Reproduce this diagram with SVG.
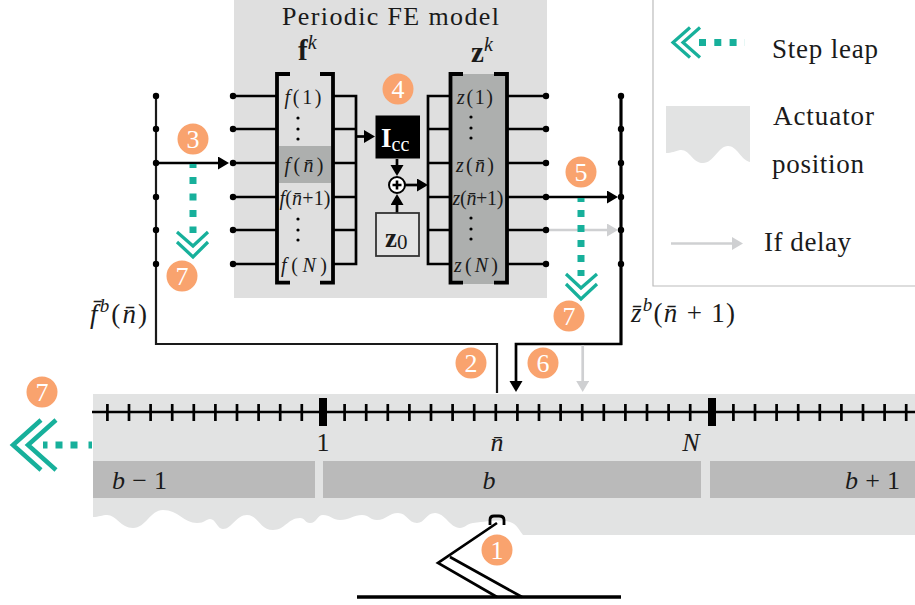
<svg xmlns="http://www.w3.org/2000/svg" width="915" height="605" viewBox="0 0 915 605">
<style>
text{font-family:"Liberation Serif","Times New Roman",serif;fill:#1a1a1a}
.it{font-style:italic}
.b{font-weight:bold}
.cell{font-size:20px;text-anchor:middle}
.lg{font-size:27px}
.big{font-size:26px}
.line{fill:none;stroke:#000;stroke-width:2.7}
.thin{fill:none;stroke:#1a1a1a;stroke-width:2.2}
.brk{fill:none;stroke:#000;stroke-width:3.8}
.gr{fill:none;stroke:#cfd0d2;stroke-width:2.7}
.dot{fill:#000}
.tick{stroke:#000;stroke-width:2.7}
.major{fill:#000}
.teal{fill:none;stroke:#17b09b;stroke-width:7}
.chev{fill:none;stroke:#17b09b;stroke-width:3.2;stroke-miterlimit:10}
.badge circle{fill:#f9a36e}
.badge text{fill:#fff;font-size:26px;text-anchor:middle}
.act{fill:#e2e3e3}
.blk{fill:#bababa}
</style>
<defs>
<marker id="ah" markerUnits="userSpaceOnUse" markerWidth="13" markerHeight="14" refX="8" refY="6.500" orient="auto"><polygon points="0,0 11,6.500 0,13" fill="#000"/></marker>
<marker id="agr" markerUnits="userSpaceOnUse" markerWidth="13" markerHeight="14" refX="8" refY="6.500" orient="auto"><polygon points="0,0 11,6.500 0,13" fill="#cfd0d2"/></marker>
</defs>

<g id="fe-panel">
<rect x="234" y="0" width="313" height="298" fill="#dfdfdf"/>
<text x="282" y="25" font-size="26" textLength="217">Periodic FE model</text>
</g>

<g id="legend">
<path d="M653 0V286H915" fill="none" stroke="#bcbcbc" stroke-width="1.2"/>
<path class="act" d="M666 106H750V162C741 160 737 146 728 146C718 146 714 163 703 163C692 163 690 149 680 150C675 151 672 153 666 153Z"/>
<path d="M699 42.5H745" fill="none" stroke="#17b09b" stroke-width="7" stroke-dasharray="7 8.3"/>
<path class="chev" d="M690 27.5L673 42.5L690 57.5M700 27.5L683 42.5L700 57.5"/>
<text class="lg" x="772" y="58" textLength="106">Step leap</text>
<text class="lg" x="773" y="125" textLength="101">Actuator</text>
<text class="lg" x="772" y="173" textLength="92">position</text>
<path class="gr" d="M671 243.500H740" marker-end="url(#agr)"/>
<text class="lg" x="764" y="251" textLength="87">If delay</text>
</g>

<g id="actuator-bar">
<path class="act" d="M93 394H915V535H523C519 530 517 524 510 522C500 519 490 521 473 523C466 524 465 528 460 528C450 528 445 513 435 513C426 513 425 523 417 523C408 523 407 513 398 513C389 513 386 520 377 520C370 520 369 515 362 515C354 515 349 520 340 520C333 520 330 515 323 515C317 515 317 523 310 523C305 523 305 518 300 518C288 518 285 530 273 530C260 530 258 515 247 515C236 515 232 529 223 529C217 529 216 519 210 519C206 519 205 523 197 523C184 523 178 510 163 510C150 510 146 528 133 528C121 528 116 515 107 515C102 515 99 517 93 517Z"/>
</g>

<g id="ruler">
<path d="M92 412H915" fill="none" stroke="#000" stroke-width="2.7"/>
<path class="tick" d="M107.400 404V421M129 404V421M150.600 404V421M172.200 404V421M193.800 404V421M215.400 404V421M237 404V421M258.600 404V421M280.200 404V421M301.800 404V421M344.600 404V421M366.200 404V421M387.800 404V421M409.400 404V421M431 404V421M452.600 404V421M474.200 404V421M495.800 404V421M517.400 404V421M539 404V421M560.600 404V421M582.200 404V421M603.800 404V421M625.400 404V421M647 404V421M668.600 404V421M690.200 404V421M733.400 404V421M755 404V421M776.600 404V421M798.200 404V421M819.800 404V421M841.400 404V421M863 404V421M884.600 404V421M906.200 404V421"/>
<rect class="major" x="319" y="398" width="8" height="28"/>
<rect class="major" x="708" y="398" width="8" height="28"/>
<text class="big" x="323" y="451" text-anchor="middle">1</text>
<text class="big it" x="497" y="451" text-anchor="middle">n̄</text>
<text class="big it" x="691" y="451" text-anchor="middle">N</text>
</g>

<g id="block-b-minus-1"><rect class="blk" x="93" y="461" width="222" height="37"/><text class="big" x="112" y="489" textLength="55"><tspan class="it">b</tspan> − 1</text></g>
<g id="block-b"><rect class="blk" x="323" y="461" width="378" height="37"/><text class="big it" x="489" y="489" text-anchor="middle">b</text></g>
<g id="block-b-plus-1"><rect class="blk" x="710" y="461" width="205" height="37"/><text class="big" x="845" y="489" textLength="55"><tspan class="it">b</tspan> + 1</text></g>

<g id="actuator-symbol">
<path d="M490 525V520Q490 516 494 516H499Q504 516 504 520V525" fill="none" stroke="#000" stroke-width="2.800"/>
<path class="line" d="M497 523L438 563L497 597M450 557L522 597"/>
<path d="M357 597H621" fill="none" stroke="#000" stroke-width="3.500"/>
</g>

<g id="connectors">
<path class="thin" d="M497 393V344H156V96"/>
<path class="line" d="M621 96V344H516V389" marker-end="url(#ah)"/>
<path class="gr" d="M582.700 345V389" marker-end="url(#agr)"/>
<path class="line" d="M156 163H226" marker-end="url(#ah)"/>
<path class="line" d="M233 96H277M233 129H277M233 163H277M233 197H277M233 230H277M233 264H277"/>
<path class="line" d="M333 96H356M333 129H356M333 163H356M333 197H356M333 230H356M333 264H356M356 94.700V265.300"/>
<path class="line" d="M356 136.500H372" marker-end="url(#ah)"/>
<path class="line" d="M397 159V173" marker-end="url(#ah)"/>
<path class="line" d="M397 213V197" marker-end="url(#ah)"/>
<path class="line" d="M405 185H425" marker-end="url(#ah)"/>
<path class="line" d="M428 94.700V265.300M428 96H450M428 129H450M428 163H450M428 197H450M428 230H450M428 264H450"/>
<path class="line" d="M507 96H546M507 129H546M507 163H546M507 197H546M507 230H546M507 264H546"/>
<path class="gr" d="M546 230H615" marker-end="url(#agr)"/>
<path class="line" d="M546 197H615" marker-end="url(#ah)"/>
<path class="line" d="M621 94V345"/>
<g class="dot">
<circle cx="156" cy="96" r="3.200"/><circle cx="156" cy="129" r="3.200"/><circle cx="156" cy="163" r="3.200"/><circle cx="156" cy="197" r="3.200"/><circle cx="156" cy="230" r="3.200"/><circle cx="156" cy="264" r="3.200"/>
<circle cx="233" cy="96" r="3.200"/><circle cx="233" cy="129" r="3.200"/><circle cx="233" cy="163" r="3.200"/><circle cx="233" cy="197" r="3.200"/><circle cx="233" cy="230" r="3.200"/><circle cx="233" cy="264" r="3.200"/>
<circle cx="546" cy="96" r="3.200"/><circle cx="546" cy="129" r="3.200"/><circle cx="546" cy="163" r="3.200"/><circle cx="546" cy="197" r="3.200"/><circle cx="546" cy="230" r="3.200"/><circle cx="546" cy="264" r="3.200"/>
<circle cx="621" cy="96" r="3.200"/><circle cx="621" cy="129" r="3.200"/><circle cx="621" cy="163" r="3.200"/><circle cx="621" cy="197" r="3.200"/><circle cx="621" cy="230" r="3.200"/><circle cx="621" cy="264" r="3.200"/>
</g>
<path class="teal" d="M193 164V233" stroke-dasharray="4 9 7 9.500 7 9.500 7 9.500 7 9.500"/>
<path class="chev" d="M177 232L193 246L208 232M177 242L193 257L208 242"/>
<path class="teal" d="M581 198V276" stroke-dasharray="4 8 7 8 7 8 7 8 7 8 7 8"/>
<path class="chev" d="M566 274L581 288L597 274M566 284L581 299L597 284"/>
<path class="teal" d="M92 445H43" stroke-dasharray="3.500 11 7 8 7 8 7 8"/>
<path class="chev" style="stroke-width:4.500" d="M41 420L13 445L41 470M56 420L28 445L56 470"/>
</g>

<g id="matrix-f">
<rect x="279" y="146" width="52" height="37" fill="#adafae"/>
<path class="brk" d="M290 74H277V282.700H290M320 74H333V282.700H320"/>
<text class="b" x="298" y="60" font-size="29">f<tspan class="it" font-weight="normal" font-size="20" dy="-11">k</tspan></text>
<text class="cell" x="303" y="104" textLength="37"><tspan class="it">f</tspan>(1)</text>
<text class="cell" x="304" y="172" textLength="39"><tspan class="it">f</tspan>(<tspan class="it">n̄</tspan>)</text>
<text class="cell" x="305" y="205" textLength="51"><tspan class="it">f</tspan>(<tspan class="it">n̄</tspan>+1)</text>
<text class="cell" x="304" y="272" textLength="46"><tspan class="it">f</tspan>(<tspan class="it">N</tspan>)</text>
<g class="dot"><circle cx="298" cy="118" r="1.600"/><circle cx="298" cy="129" r="1.600"/><circle cx="298" cy="139" r="1.600"/><circle cx="298" cy="219" r="1.600"/><circle cx="298" cy="230" r="1.600"/><circle cx="298" cy="240" r="1.600"/></g>
</g>

<g id="matrix-z">
<rect x="450" y="74" width="57" height="210" fill="#adafae"/>
<path class="brk" d="M463 74H450.500V282.700H463M494 74H507V282.700H494"/>
<text class="b" x="471" y="62" font-size="29">z<tspan class="it" font-weight="normal" font-size="20" dy="-11">k</tspan></text>
<text class="cell" x="475" y="104" textLength="36"><tspan class="it">z</tspan>(1)</text>
<text class="cell" x="475" y="172" textLength="38"><tspan class="it">z</tspan>(<tspan class="it">n̄</tspan>)</text>
<text class="cell" x="478" y="205" textLength="51"><tspan class="it">z</tspan>(<tspan class="it">n̄</tspan>+1)</text>
<text class="cell" x="476" y="272" textLength="44"><tspan class="it">z</tspan>(<tspan class="it">N</tspan>)</text>
<g class="dot"><circle cx="471" cy="117" r="1.600"/><circle cx="471" cy="128" r="1.600"/><circle cx="471" cy="138" r="1.600"/><circle cx="471" cy="218" r="1.600"/><circle cx="471" cy="229" r="1.600"/><circle cx="471" cy="239" r="1.600"/></g>
</g>

<g id="icc">
<rect x="375.500" y="115.500" width="44.500" height="43" fill="#000"/>
<text x="381" y="147" font-size="27" font-weight="bold" style="fill:#fff">I<tspan font-size="20" font-weight="normal" dy="4" style="fill:#fff">cc</tspan></text>
</g>
<g id="z0">
<rect x="376" y="213" width="43" height="43" fill="#e4e4e4" stroke="#333" stroke-width="1.800"/>
<text x="385" y="247" font-size="27" class="b">z<tspan font-size="21" font-weight="normal" dy="2">0</tspan></text>
</g>
<g id="sum">
<circle cx="397" cy="185" r="8" fill="#fff" stroke="#000" stroke-width="2"/>
<path d="M392.500 185H401.500M397 180.500V189.500" stroke="#000" stroke-width="2.600"/>
</g>

<g id="label-f"><text class="lg" x="90" y="323" textLength="57"><tspan class="it">f̄</tspan><tspan class="it" font-size="19" dy="-11">b</tspan><tspan dy="11">(</tspan><tspan class="it">n̄</tspan>)</text></g>
<g id="label-z"><text class="lg" x="631" y="322" textLength="104"><tspan class="it">z̄</tspan><tspan class="it" font-size="19" dy="-11">b</tspan><tspan dy="11">(</tspan><tspan class="it">n̄</tspan> + 1)</text></g>

<g class="badge" id="badge-3"><circle cx="193" cy="139" r="15.500"/><text x="193" y="148">3</text></g>
<g class="badge" id="badge-7a"><circle cx="182" cy="276" r="15.500"/><text x="182" y="285">7</text></g>
<g class="badge" id="badge-4"><circle cx="398" cy="89" r="15.500"/><text x="398" y="98">4</text></g>
<g class="badge" id="badge-5"><circle cx="581" cy="172" r="15.500"/><text x="581" y="181">5</text></g>
<g class="badge" id="badge-7b"><circle cx="569" cy="316" r="15.500"/><text x="569" y="325">7</text></g>
<g class="badge" id="badge-2"><circle cx="471" cy="363" r="15.500"/><text x="471" y="372">2</text></g>
<g class="badge" id="badge-6"><circle cx="543" cy="363" r="15.500"/><text x="543" y="372">6</text></g>
<g class="badge" id="badge-7c"><circle cx="42" cy="392" r="15.500"/><text x="42" y="401">7</text></g>
<g class="badge" id="badge-1"><circle cx="497" cy="550" r="15.500"/><text x="497" y="559">1</text></g>
</svg>
